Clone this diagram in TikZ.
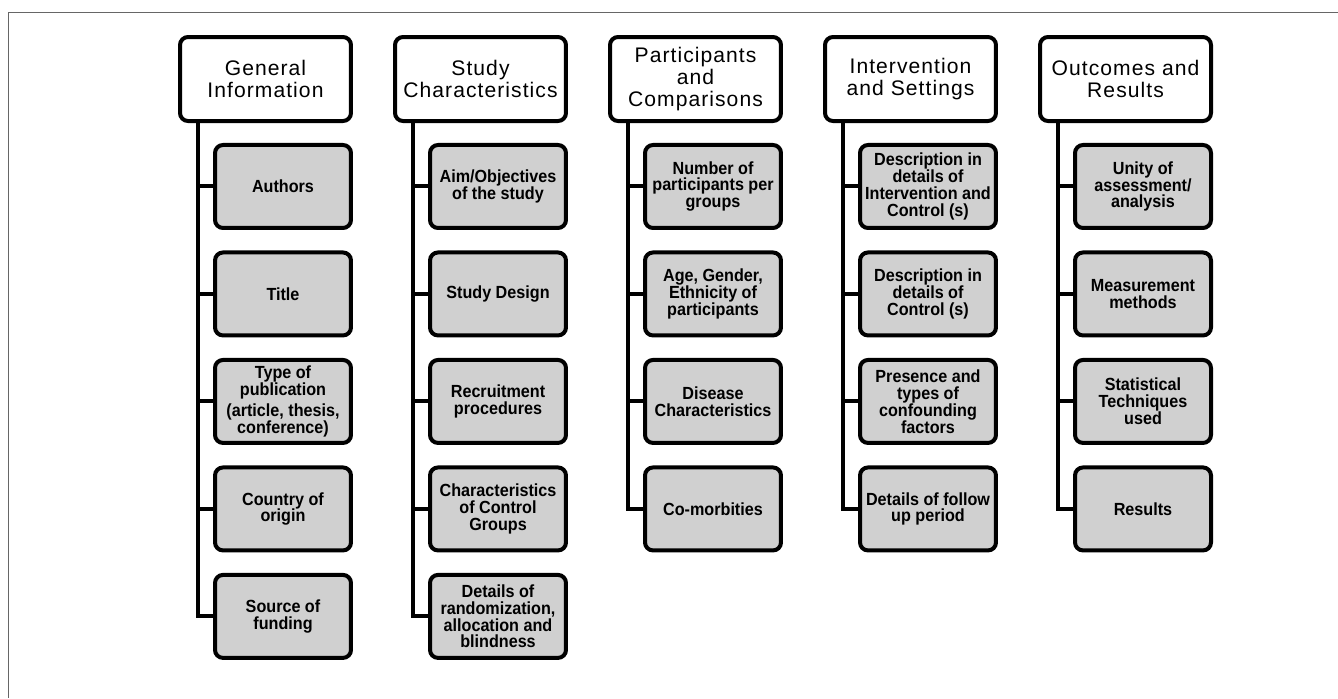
\documentclass[tikz,border=0pt]{standalone}
\usepackage{fontspec}
\setmainfont{Liberation Sans}
\newfontfamily\headfont[LetterSpace=5]{Liberation Sans}
\newfontfamily\itemfont[FakeStretch=0.92]{Liberation Sans}
\usetikzlibrary{positioning}
\definecolor{boxgray}{HTML}{D0D0D0}
\definecolor{framegray}{HTML}{666666}
\def\dtrunk{\draw[trunk]}

\begin{document}
\begin{tikzpicture}[x=0.02cm,y=-0.02cm,
    head/.style={draw,line width=0.08cm,rounded corners=0.16cm,fill=white,
        minimum width=3.42cm,minimum height=1.68cm,inner sep=0pt,align=center,
        font=\headfont\fontsize{12}{12.6}\selectfont},
    item/.style={draw,line width=0.08cm,rounded corners=0.16cm,fill=boxgray,
        minimum width=2.72cm,minimum height=1.66cm,inner sep=0pt,align=center,
        font=\itemfont\bfseries\fontsize{10}{9.6}\selectfont},
    first/.style={anchor=north east},
    trunk/.style={line width=0.08cm}]
    \useasboundingbox (0,0) rectangle (1338,698);
    \draw[framegray,line width=0.03cm] (8.5,698) |- (1338,12.5);

    % General Information
    \node[head] (gen) at (265.5,79) {General\\Information};
    \node[item,first] (gen1) at ([yshift=-0.4cm]gen.south east) {Authors};
    \node[item,below=0.41cm of gen1] (gen2) {Title};
    \node[item,below=0.41cm of gen2] (gen3) {Type of\\publication\\[2pt](article, thesis,\\conference)};
    \node[item,below=0.41cm of gen3] (gen4) {Country of\\origin};
    \node[item,below=0.41cm of gen4] (gen5) {Source of\\funding};

    % Study Characteristics
    \node[head] (stu) at (480.5,79) {Study\\Characteristics};
    \node[item,first] (stu1) at ([yshift=-0.4cm]stu.south east) {Aim/Objectives\\of the study};
    \node[item,below=0.41cm of stu1] (stu2) {Study Design};
    \node[item,below=0.41cm of stu2] (stu3) {Recruitment\\procedures};
    \node[item,below=0.41cm of stu3] (stu4) {Characteristics\\of Control\\Groups};
    \node[item,below=0.41cm of stu4] (stu5) {Details of\\randomization,\\allocation and\\blindness};

    % Participants and Comparisons
    \node[head] (par) at (695.5,79) {Participants\\and\\Comparisons};
    \node[item,first] (par1) at ([yshift=-0.4cm]par.south east) {Number of\\participants per\\groups};
    \node[item,below=0.41cm of par1] (par2) {Age, Gender,\\Ethnicity of\\participants};
    \node[item,below=0.41cm of par2] (par3) {Disease\\Characteristics};
    \node[item,below=0.41cm of par3] (par4) {Co-morbities};

    % Intervention and Settings
    \node[head] (int) at (910.5,79) {Intervention\\and Settings};
    \node[item,first] (int1) at ([yshift=-0.4cm]int.south east) {Description in\\details of\\Intervention and\\Control (s)};
    \node[item,below=0.41cm of int1] (int2) {Description in\\details of\\Control (s)};
    \node[item,below=0.41cm of int2] (int3) {Presence and\\types of\\confounding\\factors};
    \node[item,below=0.41cm of int3] (int4) {Details of follow\\up period};

    % Outcomes and Results
    \node[head] (out) at (1125.5,79) {Outcomes and\\Results};
    \node[item,first] (out1) at ([yshift=-0.4cm]out.south east) {Unity of\\assessment/\\analysis};
    \node[item,below=0.41cm of out1] (out2) {Measurement\\methods};
    \node[item,below=0.41cm of out2] (out3) {Statistical\\Techniques\\used};
    \node[item,below=0.41cm of out3] (out4) {Results};

    % trunks and branches
    \dtrunk ([xshift=0.4cm]gen.south west) |- (gen5.west);
    \dtrunk ([xshift=0.4cm]gen.south west) |- (gen1.west);
    \dtrunk ([xshift=0.4cm]gen.south west) |- (gen2.west);
    \dtrunk ([xshift=0.4cm]gen.south west) |- (gen3.west);
    \dtrunk ([xshift=0.4cm]gen.south west) |- (gen4.west);

    \dtrunk ([xshift=0.4cm]stu.south west) |- (stu5.west);
    \dtrunk ([xshift=0.4cm]stu.south west) |- (stu1.west);
    \dtrunk ([xshift=0.4cm]stu.south west) |- (stu2.west);
    \dtrunk ([xshift=0.4cm]stu.south west) |- (stu3.west);
    \dtrunk ([xshift=0.4cm]stu.south west) |- (stu4.west);

    \dtrunk ([xshift=0.4cm]par.south west) |- (par4.west);
    \dtrunk ([xshift=0.4cm]par.south west) |- (par1.west);
    \dtrunk ([xshift=0.4cm]par.south west) |- (par2.west);
    \dtrunk ([xshift=0.4cm]par.south west) |- (par3.west);

    \dtrunk ([xshift=0.4cm]int.south west) |- (int4.west);
    \dtrunk ([xshift=0.4cm]int.south west) |- (int1.west);
    \dtrunk ([xshift=0.4cm]int.south west) |- (int2.west);
    \dtrunk ([xshift=0.4cm]int.south west) |- (int3.west);

    \dtrunk ([xshift=0.4cm]out.south west) |- (out4.west);
    \dtrunk ([xshift=0.4cm]out.south west) |- (out1.west);
    \dtrunk ([xshift=0.4cm]out.south west) |- (out2.west);
    \dtrunk ([xshift=0.4cm]out.south west) |- (out3.west);
\end{tikzpicture}
\end{document}
